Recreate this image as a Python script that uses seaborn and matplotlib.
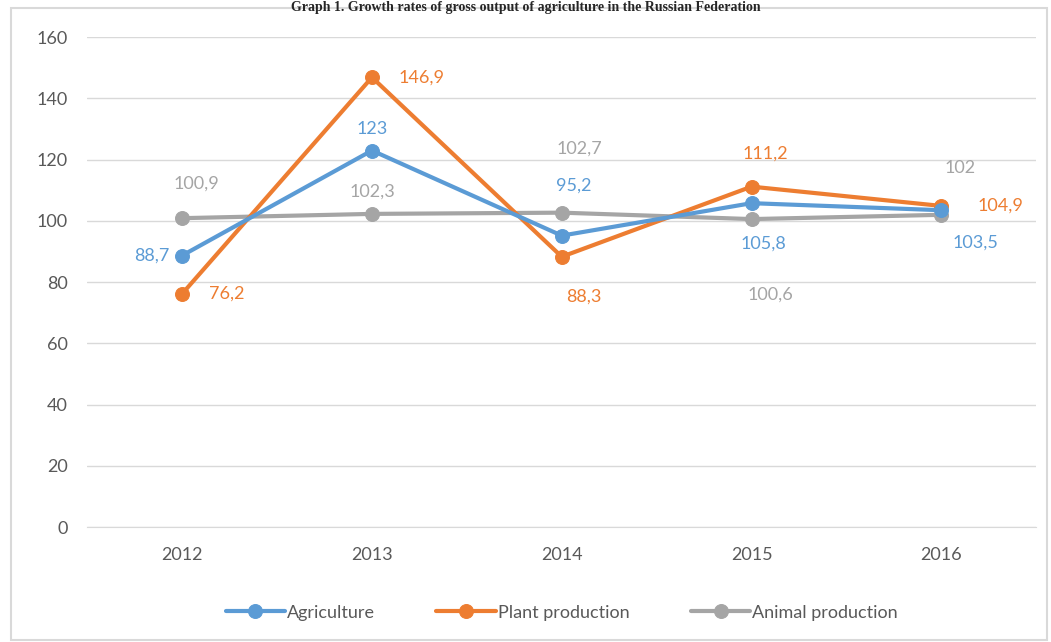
import matplotlib.pyplot as plt
import matplotlib.patches as mpatches
import seaborn as sns
import pandas as pd

years = [2012, 2013, 2014, 2015, 2016]
agriculture = [88.7, 123.0, 95.2, 105.8, 103.5]
plant = [76.2, 146.9, 88.3, 111.2, 104.9]
animal = [100.9, 102.3, 102.7, 100.6, 102.0]
series_names = ["Agriculture", "Plant production", "Animal production"]
colors = ["#5B9BD5", "#ED7D31", "#A5A5A5"]

df = pd.DataFrame({
    "year": years * 3,
    "value": agriculture + plant + animal,
    "series": [n for n in series_names for _ in years],
})

sns.set_style("white")
plt.rcParams["font.family"] = ["Lato", "DejaVu Sans"]

fig = plt.figure(figsize=(10.51, 6.42), dpi=100)
ax = fig.add_axes([0.083, 0.179, 0.903, 0.763])

# chart border
fig.patches.append(mpatches.Rectangle((11 / 1051, 2 / 642), 1036 / 1051, 632 / 642,
                                      transform=fig.transFigure, fill=False,
                                      edgecolor="#D9D9D9", linewidth=1.5))

# draw animal first so it sits beneath
order = ["Animal production", "Plant production", "Agriculture"]
for name in order:
    i = series_names.index(name)
    sub = df[df["series"] == name]
    sns.lineplot(data=sub, x="year", y="value", ax=ax, color=colors[i],
                 linewidth=3, marker="o", markersize=10,
                 markeredgecolor=colors[i], label=name)

ax.set_xlim(2011.5, 2016.5)
ax.set_ylim(0, 160)
ax.set_yticks(range(0, 161, 20))
ax.set_xticks(years)
ax.set_xticklabels([str(y) for y in years])
ax.grid(axis="y", color="#D9D9D9", linewidth=1)
ax.set_axisbelow(True)
for s in ["top", "right", "left"]:
    ax.spines[s].set_visible(False)
ax.spines["bottom"].set_color("#D9D9D9")
ax.tick_params(axis="both", length=0, labelsize=13, colors="#595959", pad=14)
ax.set_xlabel("")
ax.set_ylabel("")

# data labels: (dx, dy) offsets in pixels
offsets = {
    "Agriculture": [(-30, 0), (0, 22), (12, 50), (12, -40), (34, -32)],
    "Plant production": [(45, 0), (50, 0), (22, -40), (14, 33), (59, 0)],
    "Animal production": [(14, 35), (0, 22), (18, 64), (19, -76), (19, 47)],
}
values = {"Agriculture": agriculture, "Plant production": plant,
          "Animal production": animal}
for i, name in enumerate(series_names):
    for x, v, (dx, dy) in zip(years, values[name], offsets[name]):
        txt = f"{v:g}".replace(".", ",")
        ax.annotate(txt, (x, v), xytext=(dx, dy), textcoords="offset pixels",
                    ha="center", va="center", fontsize=13, color=colors[i])

# legend
handles, labels = ax.get_legend_handles_labels()
hmap = dict(zip(labels, handles))
ax.legend([hmap[n] for n in series_names], series_names, loc="upper center",
          bbox_to_anchor=(0.5, -0.125), ncol=3, frameon=False, fontsize=13,
          labelcolor="#595959", handlelength=3.3, columnspacing=3.4,
          handletextpad=0.1)

# title (cropped in the source image, kept small so it stays visible)
fig.text(0.5, 0.999, "Graph 1. Growth rates of gross output of agriculture in the Russian Federation",
         ha="center", va="top", fontsize=10, fontweight="bold",
         family=["Liberation Serif"])

fig.savefig("out.png", dpi=100)
